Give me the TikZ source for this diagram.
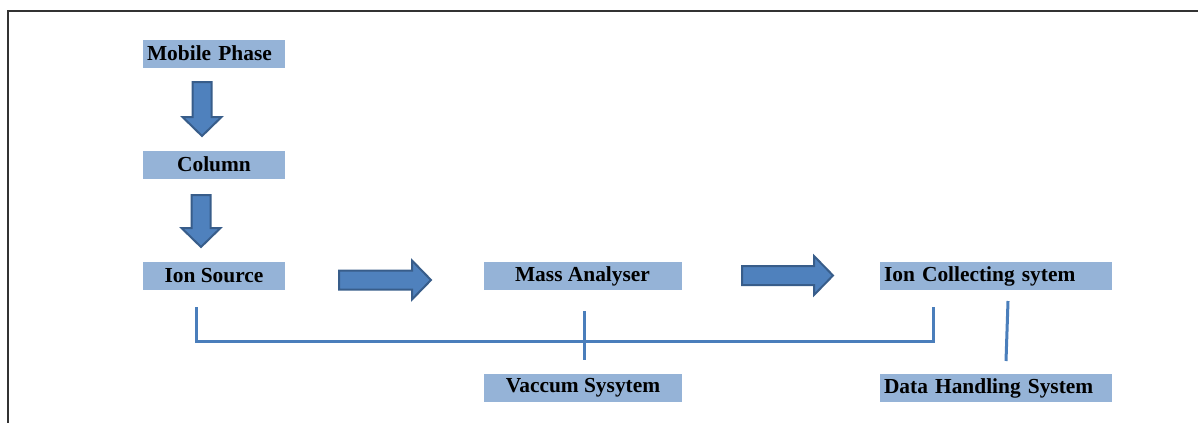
\documentclass[tikz,border=0pt]{standalone}
\usepackage{fontspec}
\setmainfont{Liberation Serif}
\usepackage{xcolor}
\usepackage{tikz}

\definecolor{boxblue}{HTML}{95B3D7}
\definecolor{arrowblue}{HTML}{4F81BD}
\definecolor{arrowedge}{HTML}{385D8A}
\definecolor{lineblue}{HTML}{4A7EBB}

\tikzset{
  stage/.style={fill=boxblue, draw=none, minimum width=71pt, minimum height=14pt,
    inner xsep=2pt, inner ysep=0pt, font=\fontsize{10.7}{12}\selectfont\bfseries},
  wide/.style={minimum width=99pt},
  leftstage/.style={text width=#1, align=left},
  blockarrow/.style={fill=arrowblue, draw=arrowedge, line width=1pt, line join=miter},
  link/.style={draw=lineblue, line width=1.5pt},
  frame/.style={draw=black!80, line width=1pt}
}

\begin{document}
\begin{tikzpicture}[x=0.5pt, y=-0.5pt]
             \useasboundingbox (0,0) rectangle (1198,423);
             \draw[frame] (1198,11) -- (8,11) -- (8,423);

             \node[stage, leftstage=67pt] (mobile) at (214, 53.5) {Mobile Phase};
             \node[stage] (column) at (214, 164.5) {Column};
             \node[stage] (ionsrc) at (214, 276) {Ion Source};
             \node[stage, wide] (mass) at (582.5, 276) {Mass Analyser};
             \node[stage, wide] (vacuum) at (583, 388) {Vaccum Sysytem};
             \node[stage, leftstage=112pt] (collect) at (996, 276) {Ion Collecting sytem};
             \node[stage, leftstage=112pt] (data) at (996, 388) {Data Handling System};

             \filldraw[blockarrow] (192.5,82) -- (192.5,117) -- (182.5,117) -- (202,136)
                 -- (221.5,117) -- (211.5,117) -- (211.5,82) -- cycle;
             \filldraw[blockarrow] (191.5,195) -- (191.5,228) -- (181.5,228) -- (201,247)
                 -- (220.5,228) -- (210.5,228) -- (210.5,195) -- cycle;
             \filldraw[blockarrow] (339,270.5) -- (412,270.5) -- (412,260.5) -- (431,280)
                 -- (412,299.5) -- (412,289.5) -- (339,289.5) -- cycle;
             \filldraw[blockarrow] (742,266) -- (814,266) -- (814,256) -- (833,275.5)
                 -- (814,295) -- (814,285) -- (742,285) -- cycle;

             \coordinate (srcfoot) at (196,307);
             \coordinate (colfoot) at (933,307);
             \coordinate (masstop) at (584,311);
             \coordinate (vacfoot) at (584,360);
             \coordinate (coltop) at (1008,301);
             \coordinate (datatop) at (1006,361);

             \draw[link] (srcfoot) -- (196,341) -- (933,341) -- (colfoot);
             \draw[link] (masstop) -- (vacfoot);
             \draw[link] (coltop) -- (datatop);
             \end{tikzpicture}
\end{document}
